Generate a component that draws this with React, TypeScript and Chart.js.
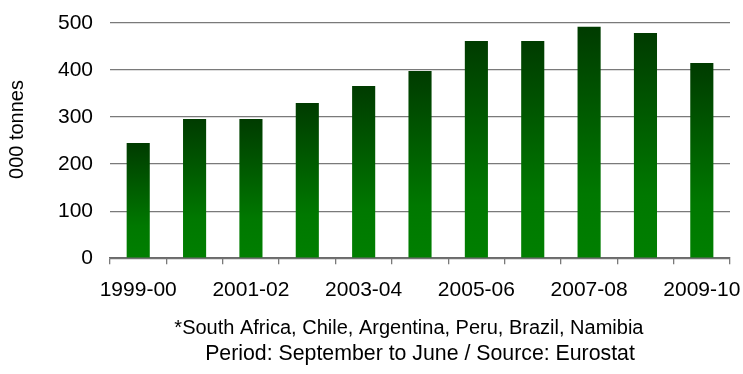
import React, { useEffect, useRef } from "react";
import { Chart, registerables } from "chart.js";

Chart.register(...registerables);

const seasons = [
  "1999-00", "2000-01", "2001-02", "2002-03", "2003-04", "2004-05",
  "2005-06", "2006-07", "2007-08", "2008-09", "2009-10",
];
const tonnes = [245, 296, 296, 330, 366, 398, 462, 462, 492, 479, 415];
const yTicks = [0, 100, 200, 300, 400, 500];
const yTitle = "    000 tonnes";
const countriesNote = "*South Africa, Chile, Argentina, Peru, Brazil, Namibia    ";
const sourceNote = "Period: September to June / Source: Eurostat";

const FONT = "'Liberation Sans', Arial, sans-serif";

export default function App() {
  const canvasRef = useRef<HTMLCanvasElement | null>(null);

  useEffect(() => {
    const canvas = canvasRef.current;
    if (!canvas) return;

    const chart = new Chart(canvas, {
      type: "bar",
      data: {
        labels: seasons,
        datasets: [
          {
            data: tonnes,
            barPercentage: 0.41,
            categoryPercentage: 1,
            borderWidth: 0,
            // vertical gradient on each bar, dark at the top, bright green at the base
            backgroundColor: (ctx: any) => {
              const c = ctx.chart;
              const y = c.scales && c.scales.y;
              if (!c.chartArea || !y || ctx.dataIndex === undefined) return "#007800";
              const top = y.getPixelForValue(tonnes[ctx.dataIndex]);
              const bottom = y.getPixelForValue(0);
              const g = c.ctx.createLinearGradient(0, top, 0, bottom);
              g.addColorStop(0, "#003b00");
              g.addColorStop(0.72, "#007800");
              g.addColorStop(1, "#007f00");
              return g;
            },
          },
        ],
      },
      options: {
        responsive: false,
        animation: false,
        layout: { padding: { top: 23, right: 13, left: 0, bottom: 0 } },
        plugins: {
          legend: { display: false },
          tooltip: { enabled: false },
          subtitle: {
            display: true,
            position: "bottom",
            fullSize: false,
            text: countriesNote,
            color: "#000",
            font: { family: FONT, size: 20, weight: "normal", lineHeight: 1.3 },
            padding: { top: 0, bottom: 0 },
          },
          title: {
            display: true,
            position: "bottom",
            fullSize: false,
            text: sourceNote,
            color: "#000",
            font: { family: FONT, size: 21.3, weight: "normal", lineHeight: 1.2 },
            padding: { top: 0, bottom: 7 },
          },
        },
        scales: {
          x: {
            afterFit: (scale: any) => {
              scale.paddingLeft = 0;
              scale.paddingRight = 0;
            },
            grid: {
              display: true,
              offset: true,
              drawOnChartArea: false,
              drawTicks: true,
              tickLength: 6,
              color: "#7a7a7a",
              lineWidth: 1.3,
            },
            border: { display: true, color: "#6a6a6a", width: 1.5 },
            ticks: {
              autoSkip: false,
              maxRotation: 0,
              minRotation: 0,
              padding: 13,
              color: "#000",
              font: { family: FONT, size: 21 },
              callback: (_v: any, i: number) => (i % 2 === 0 ? seasons[i] : ""),
            },
          },
          y: {
            min: 0,
            max: 500,
            afterBuildTicks: (axis: any) => {
              axis.ticks = yTicks.map((v) => ({ value: v }));
            },
            afterFit: (scale: any) => {
              scale.paddingTop = 0;
              scale.paddingBottom = 0;
            },
            grid: {
              color: "#7a7a7a",
              lineWidth: 1.3,
              drawTicks: false,
            },
            border: { display: false },
            ticks: {
              padding: 17,
              color: "#000",
              font: { family: FONT, size: 21 },
            },
            title: {
              display: true,
              text: yTitle,
              color: "#000",
              font: { family: FONT, size: 20, lineHeight: 1.2 },
              padding: { top: 5, bottom: 12 },
            },
          },
        },
      },
    });

    return () => chart.destroy();
  }, []);

  return (
    <div style={{ position: "fixed", left: 0, top: 0, width: 743, height: 374, background: "#fff" }}>
      <canvas ref={canvasRef} width={743} height={374} style={{ display: "block" }} />
    </div>
  );
}
